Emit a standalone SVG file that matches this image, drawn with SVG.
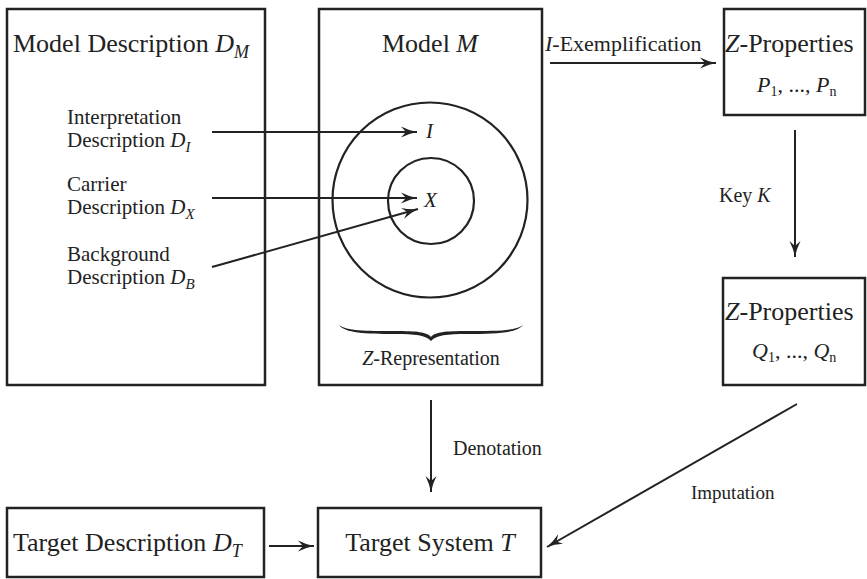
<svg xmlns="http://www.w3.org/2000/svg" width="867" height="579" viewBox="0 0 867 579">
  <defs>
    <marker id="arrow" markerUnits="userSpaceOnUse" markerWidth="18" markerHeight="12" refX="16" refY="6" orient="auto">
      <path d="M0,0.5 Q8,4.5 16,6 Q8,7.5 0,11.5 L5,6 Z" fill="#222"/>
    </marker>
  </defs>

  <rect width="867" height="579" fill="#fff"/>

  <!-- Model description -->
  <g id="model-description">
    <rect x="7" y="9" width="258" height="376" fill="#fff" stroke="#222" stroke-width="2.5"/>
    <text font-family="Liberation Serif" fill="#222" font-size="26" x="13" y="52">Model Description <tspan font-style="italic">D</tspan><tspan font-style="italic" font-size="18" dy="6">M</tspan></text>
    <text font-family="Liberation Serif" fill="#222" font-size="21" x="67" y="124">Interpretation</text>
    <text font-family="Liberation Serif" fill="#222" font-size="21" x="67" y="147">Description <tspan font-style="italic">D</tspan><tspan font-style="italic" font-size="15" dy="5">I</tspan></text>
    <text font-family="Liberation Serif" fill="#222" font-size="21" x="67" y="191">Carrier</text>
    <text font-family="Liberation Serif" fill="#222" font-size="21" x="67" y="214">Description <tspan font-style="italic">D</tspan><tspan font-style="italic" font-size="15" dy="5">X</tspan></text>
    <text font-family="Liberation Serif" fill="#222" font-size="21" x="67" y="261">Background</text>
    <text font-family="Liberation Serif" fill="#222" font-size="21" x="67" y="284">Description <tspan font-style="italic">D</tspan><tspan font-style="italic" font-size="15" dy="5">B</tspan></text>
  </g>

  <!-- Model -->
  <g id="model">
    <rect x="319" y="9" width="223" height="376" fill="#fff" stroke="#222" stroke-width="2.5"/>
    <text font-family="Liberation Serif" fill="#222" font-size="26" x="430" y="52" text-anchor="middle">Model <tspan font-style="italic">M</tspan></text>
    <circle cx="430" cy="200" r="97.5" fill="none" stroke="#222" stroke-width="2.2"/>
    <circle cx="431" cy="201" r="43" fill="none" stroke="#222" stroke-width="2.2"/>
    <text font-family="Liberation Serif" fill="#222" font-size="21" font-style="italic" x="426" y="138">I</text>
    <text font-family="Liberation Serif" fill="#222" font-size="21" font-style="italic" x="424" y="207">X</text>
    <path d="M339,325 C345,333 365,334 395,334 C415,334 426,335 431,341 C436,335 447,334 467,334 C497,334 517,333 523,325 C515,331 497,331 467,331 C445,331 435,332 431,337 C427,332 417,331 395,331 C365,331 347,331 339,325 Z" fill="#222"/>
    <text font-family="Liberation Serif" fill="#222" font-size="20" x="431" y="365" text-anchor="middle"><tspan font-style="italic">Z</tspan>-Representation</text>
  </g>

  <!-- Z-properties of the model -->
  <g id="z-properties-p">
    <rect x="724" y="9" width="141" height="106" fill="#fff" stroke="#222" stroke-width="2.5"/>
    <text font-family="Liberation Serif" fill="#222" font-size="26" x="725" y="52"><tspan font-style="italic">Z</tspan>-Properties</text>
    <text font-family="Liberation Serif" fill="#222" font-size="22" x="757" y="92"><tspan font-style="italic">P</tspan><tspan font-size="14" dy="4">1</tspan><tspan dy="-4">, ..., </tspan><tspan font-style="italic">P</tspan><tspan font-size="14" dy="4">n</tspan></text>
  </g>

  <!-- Z-properties of the target -->
  <g id="z-properties-q">
    <rect x="723" y="278" width="142" height="107" fill="#fff" stroke="#222" stroke-width="2.5"/>
    <text font-family="Liberation Serif" fill="#222" font-size="26" x="725" y="320"><tspan font-style="italic">Z</tspan>-Properties</text>
    <text font-family="Liberation Serif" fill="#222" font-size="22" x="752" y="358"><tspan font-style="italic">Q</tspan><tspan font-size="14" dy="4">1</tspan><tspan dy="-4">, ..., </tspan><tspan font-style="italic">Q</tspan><tspan font-size="14" dy="4">n</tspan></text>
  </g>

  <!-- Target description -->
  <g id="target-description">
    <rect x="7" y="508" width="257" height="69" fill="#fff" stroke="#222" stroke-width="2.5"/>
    <text font-family="Liberation Serif" fill="#222" font-size="26" x="13" y="551">Target Description <tspan font-style="italic">D</tspan><tspan font-style="italic" font-size="18" dy="6">T</tspan></text>
  </g>

  <!-- Target system -->
  <g id="target-system">
    <rect x="318" y="508" width="223" height="69" fill="#fff" stroke="#222" stroke-width="2.5"/>
    <text font-family="Liberation Serif" fill="#222" font-size="26" x="430" y="551" text-anchor="middle">Target System <tspan font-style="italic">T</tspan></text>
  </g>

  <!-- Connectors -->
  <g id="connectors" fill="none" stroke="#222" stroke-width="2">
    <line x1="212" y1="132" x2="417" y2="132" marker-end="url(#arrow)"/>
    <line x1="212" y1="198" x2="417" y2="198" marker-end="url(#arrow)"/>
    <line x1="212" y1="267" x2="418" y2="209" marker-end="url(#arrow)"/>
    <line x1="550" y1="63" x2="716" y2="63" marker-end="url(#arrow)"/>
    <line x1="795" y1="130" x2="795" y2="257" marker-end="url(#arrow)"/>
    <line x1="431" y1="400" x2="431" y2="492" marker-end="url(#arrow)"/>
    <line x1="797" y1="404" x2="547" y2="547" marker-end="url(#arrow)"/>
    <line x1="269" y1="546" x2="314" y2="546" marker-end="url(#arrow)"/>
  </g>
  <g id="connector-labels" fill="#222" stroke="none">
    <text font-family="Liberation Serif" font-size="22" x="545" y="51"><tspan font-style="italic">I</tspan>-Exemplification</text>
    <text font-family="Liberation Serif" font-size="20" x="719" y="202">Key <tspan font-style="italic">K</tspan></text>
    <text font-family="Liberation Serif" font-size="20" x="453" y="455">Denotation</text>
    <text font-family="Liberation Serif" font-size="19" x="691" y="499">Imputation</text>
  </g>
</svg>
